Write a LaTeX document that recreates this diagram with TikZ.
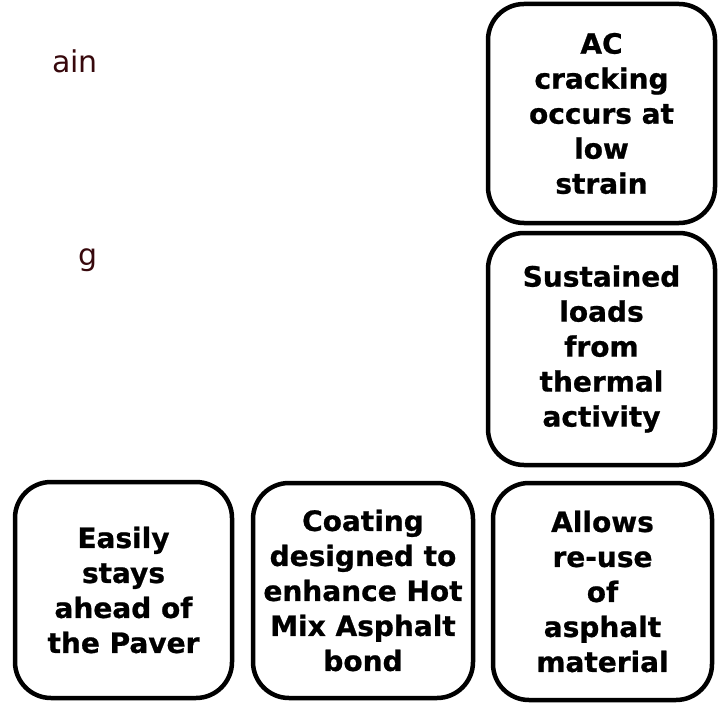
\documentclass[tikz,border=0pt]{standalone}
\usepackage{fontspec}
\setmainfont{DejaVu Sans}
\newfontfamily\boxfont{DejaVu Sans Bold}[FakeBold=0.8]
\definecolor{slidered}{RGB}{55, 8, 12}
\usepackage{tikz}
\usetikzlibrary{positioning}

\begin{document}
\begin{tikzpicture}[
  x=1pt, y=-1pt,
  tbox/.style={draw, line width=4.5pt, rounded corners=36pt, fill=white, align=center, inner sep=0pt, font=\fontsize{28}{35}\boxfont},
  cuttext/.style={anchor=base east, text=slidered, inner sep=0pt, font=\fontsize{30}{34}\selectfont}
]
  \useasboundingbox (0,0) rectangle (719,703);
  % text of the slide, cut off at the left
  \node[cuttext] (strainend) at (98, 73) {ain};
  \node[cuttext] (loadend) at (98, 265) {g};
  % right column
  \node[tbox, minimum width=227pt, minimum height=219pt] (crack) at (601.5, 113.5) {
    AC\\
    cracking\\
    occurs at\\
    low\\
    strain
  };
  \node[tbox, minimum width=227pt, minimum height=232pt] (thermal) at (601.5, 349) {
    Sustained\\
    loads\\
    from\\
    thermal\\
    activity
  };
  % bottom row
  \node[tbox, minimum width=217pt, minimum height=216pt] (paver) at (123.5, 590) {
    Easily\\
    stays\\
    ahead of\\
    the Paver
  };
  \node[tbox, minimum width=220pt, minimum height=215pt] (coating) at (363, 590.5) {
    Coating\\
    designed to\\
    enhance Hot\\
    Mix Asphalt\\
    bond
  };
  \node[tbox, minimum width=219pt, minimum height=217pt] (reuse) at (602.5, 591.5) {
    Allows\\
    re-use\\
    of\\
    asphalt\\
    material
  };
\end{tikzpicture}
\end{document}
